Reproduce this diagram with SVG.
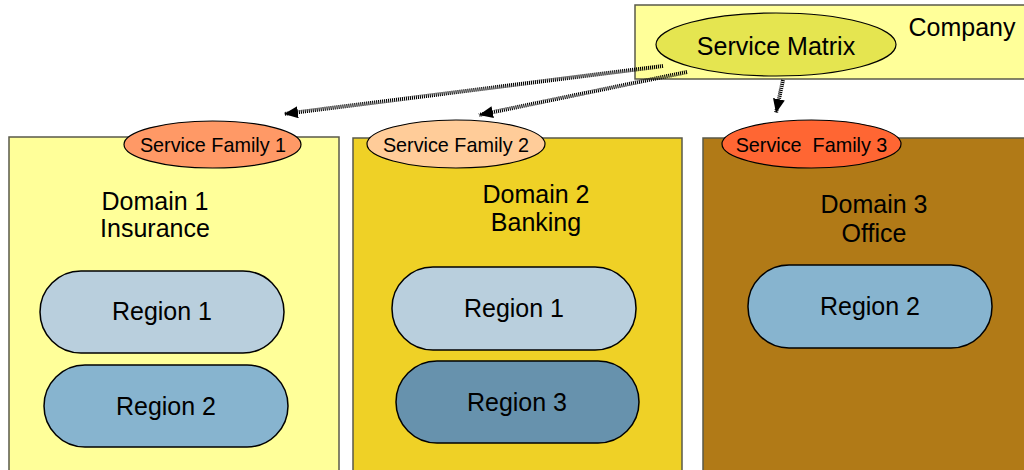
<svg xmlns="http://www.w3.org/2000/svg" width="1024" height="470" viewBox="0 0 1024 470">
<style>
.box{stroke:#5a5a4a;stroke-width:1.5}
.ell{stroke:#000;stroke-width:1.2}
.reg{stroke:#000;stroke-width:1.5}
text{font-family:"Liberation Sans",Arial,sans-serif;fill:#000;text-anchor:middle}
.big{font-size:25px}
.sf{font-size:19.8px}
.conn{stroke:#000;stroke-width:4;stroke-dasharray:1.1 0.9;fill:none}
</style>
<defs>
<marker id="ah" viewBox="0 0 14 12" refX="14" refY="6" markerWidth="14" markerHeight="12" markerUnits="userSpaceOnUse" orient="auto">
<path d="M0,0 L14,6 L0,12 z" fill="#000"/>
</marker>
</defs>
<rect width="1024" height="470" fill="#fff"/>

<g id="domain1">
<rect class="box" x="9" y="137" width="330" height="340" fill="#ffff99"/>
<text class="big" x="155" y="210">Domain 1</text>
<text class="big" x="155" y="237">Insurance</text>
</g>
<g id="domain2">
<rect class="box" x="353" y="138" width="329" height="340" fill="#efd126"/>
<text class="big" x="536" y="203">Domain 2</text>
<text class="big" x="536" y="231">Banking</text>
</g>
<g id="domain3">
<rect class="box" x="703" y="138" width="330" height="340" fill="#b17a17"/>
<text class="big" x="874" y="213">Domain 3</text>
<text class="big" x="874" y="242">Office</text>
</g>

<g id="d1-region1">
<rect class="reg" x="40" y="271" width="244" height="82" rx="41" fill="#b9cfdd"/>
<text class="big" x="162" y="320">Region 1</text>
</g>
<g id="d1-region2">
<rect class="reg" x="44" y="365" width="244" height="82" rx="41" fill="#87b4cf"/>
<text class="big" x="166" y="415">Region 2</text>
</g>
<g id="d2-region1">
<rect class="reg" x="392" y="267" width="244" height="83" rx="41" fill="#b9cfdd"/>
<text class="big" x="514" y="317">Region 1</text>
</g>
<g id="d2-region3">
<rect class="reg" x="396" y="361" width="243" height="82" rx="41" fill="#6792ad"/>
<text class="big" x="517" y="411">Region 3</text>
</g>
<g id="d3-region2">
<rect class="reg" x="748" y="265" width="244" height="83" rx="41" fill="#87b4cf"/>
<text class="big" x="870" y="315">Region 2</text>
</g>

<g id="sf1">
<ellipse class="ell" cx="212.5" cy="144.5" rx="88.5" ry="23.5" fill="#ff9966"/>
<text class="sf" x="213" y="152">Service Family 1</text>
</g>
<g id="sf2">
<ellipse class="ell" cx="456" cy="144" rx="89" ry="24" fill="#ffcc99"/>
<text class="sf" x="456" y="152">Service Family 2</text>
</g>
<g id="sf3">
<ellipse class="ell" cx="811.5" cy="144" rx="89.5" ry="24" fill="#ff6633"/>
<text class="sf" x="811.5" y="152" xml:space="preserve">Service  Family 3</text>
</g>

<g id="company">
<rect class="box" x="635" y="5" width="400" height="74" fill="#ffff99"/>
<text class="big" x="962" y="36">Company</text>
</g>
<g id="service-matrix">
<ellipse class="ell" cx="776" cy="44.5" rx="120" ry="31.5" fill="#e5e550"/>
<text class="big" x="776" y="55">Service Matrix</text>
</g>

<g id="connectors">
<line class="conn" x1="663" y1="66" x2="284" y2="114" marker-end="url(#ah)"/>
<line class="conn" x1="687" y1="72" x2="479" y2="115" marker-end="url(#ah)"/>
<line class="conn" x1="783" y1="80" x2="776" y2="113" marker-end="url(#ah)"/>
</g>
</svg>
